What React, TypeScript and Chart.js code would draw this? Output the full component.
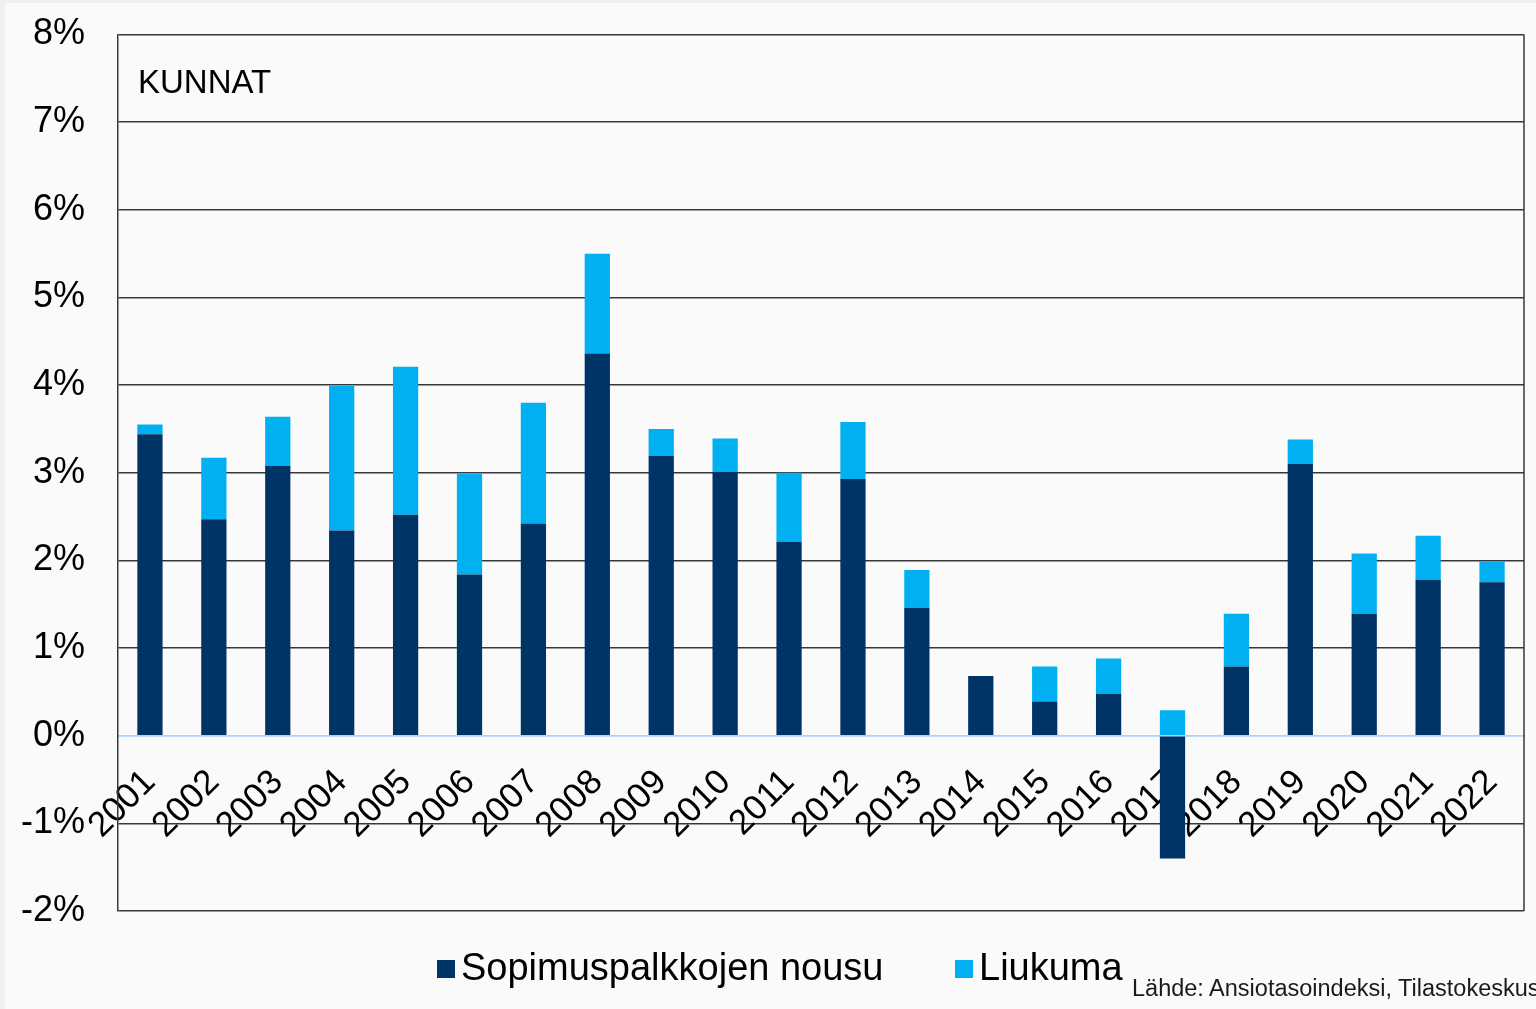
import React, { useEffect, useRef } from 'react';
import { Chart, registerables } from 'chart.js';

Chart.register(...registerables);

const years = ['2001', '2002', '2003', '2004', '2005', '2006', '2007', '2008', '2009', '2010', '2011',
  '2012', '2013', '2014', '2015', '2016', '2017', '2018', '2019', '2020', '2021', '2022'];

const sopimuspalkkojenNousu = [3.44, 2.47, 3.08, 2.34, 2.52, 1.84, 2.42, 4.36, 3.19, 3.01, 2.21,
  2.93, 1.46, 0.68, 0.39, 0.48, -1.40, 0.79, 3.10, 1.39, 1.78, 1.75];

const liukuma = [0.11, 0.70, 0.56, 1.65, 1.69, 1.15, 1.38, 1.14, 0.31, 0.38, 0.79,
  0.65, 0.43, 0, 0.40, 0.40, 0.29, 0.60, 0.28, 0.69, 0.50, 0.24];

const seriesLabels = ['Sopimuspalkkojen nousu', 'Liukuma'];
const yMin = -2;
const yMax = 8;
const panelTitle = 'KUNNAT';
const sourceText = 'Lähde: Ansiotasoindeksi, Tilastokeskus';

const FONT = "'Liberation Sans', Arial, Helvetica, sans-serif";
const NAVY = '#003366';
const LIGHT = '#00b0f0';
const seriesColors = [NAVY, LIGHT];
const GRID = '#383838';
const ZERO = '#a9d3ff';

// legend layout (inner-panel coordinates)
const legendLeft = [432, 950];

const framePlugin = {
  id: 'frameRight',
  beforeDatasetsDraw(chart: any) {
    const { ctx, chartArea: a } = chart;
    ctx.save();
    ctx.strokeStyle = GRID;
    ctx.lineWidth = 1.5;
    ctx.beginPath();
    ctx.moveTo(a.right, a.top);
    ctx.lineTo(a.right, a.bottom);
    ctx.stroke();
    ctx.restore();
  },
};

export default function App() {
  const canvasRef = useRef<HTMLCanvasElement | null>(null);

  useEffect(() => {
    const canvas = canvasRef.current;
    if (!canvas) return;
    const chart = new Chart(canvas, {
      type: 'bar',
      data: {
        labels: years,
        datasets: [
          {
            label: seriesLabels[0],
            data: sopimuspalkkojenNousu,
            backgroundColor: seriesColors[0],
            borderWidth: 0,
            barPercentage: 0.395,
            categoryPercentage: 1,
          },
          {
            label: seriesLabels[1],
            data: liukuma,
            backgroundColor: seriesColors[1],
            borderWidth: 0,
            barPercentage: 0.395,
            categoryPercentage: 1,
          },
        ],
      },
      options: {
        animation: false,
        responsive: false,
        maintainAspectRatio: false,
        devicePixelRatio: 1,
        layout: { padding: { top: 31.5, right: 12, bottom: 98, left: 0 } },
        plugins: {
          tooltip: { enabled: false },
          legend: { display: false },
        },
        scales: {
          x: {
            type: 'category',
            stacked: true,
            offset: true,
            position: { y: 0 } as any,
            z: 1,
            grid: { display: false, drawTicks: false },
            border: { display: true, color: ZERO, width: 1.5 },
            ticks: {
              autoSkip: false,
              minRotation: 45,
              maxRotation: 45,
              padding: 26,
              color: '#000',
              font: { family: FONT, size: 35 },
            },
            afterFit: (s: any) => {
              s.paddingLeft = 0;
              s.paddingRight = 0;
            },
          },
          y: {
            stacked: true,
            min: yMin,
            max: yMax,
            ticks: {
              stepSize: 1,
              padding: 33,
              color: '#000',
              font: { family: FONT, size: 36 },
              callback: (v: any) => `${v}%`,
            },
            grid: {
              drawTicks: false,
              lineWidth: 1.5,
              color: (c: any) => (c.tick && c.tick.value === 0 ? ZERO : GRID),
            },
            border: { display: true, color: GRID, width: 1.5 },
            afterFit: (s: any) => {
              s.width = 113;
              s.paddingTop = 0;
              s.paddingBottom = 0;
            },
          },
        },
      },
      plugins: [framePlugin],
    } as any);
    return () => chart.destroy();
  }, []);

  return (
    <div style={{ position: 'fixed', inset: 0, background: '#f0f0f0', overflow: 'hidden' }}>
      <div
        style={{
          position: 'absolute',
          left: 5,
          top: 3,
          width: 1531,
          height: 1006,
          background: '#fafafa',
          overflow: 'hidden',
        }}
      >
        <canvas ref={canvasRef} width={1531} height={1006} style={{ display: 'block' }} />
        <div
          style={{
            position: 'absolute',
            left: 133,
            top: 62,
            fontFamily: FONT,
            fontSize: 33,
            lineHeight: '33px',
            color: '#000',
            whiteSpace: 'nowrap',
          }}
        >
          {panelTitle}
        </div>
        {seriesLabels.map((label, i) => (
          <div
            key={label}
            style={{
              position: 'absolute',
              left: legendLeft[i],
              top: 945,
              height: 38,
              display: 'flex',
              alignItems: 'flex-start',
              fontFamily: FONT,
              fontSize: 38,
              lineHeight: '38px',
              color: '#000',
              whiteSpace: 'nowrap',
            }}
          >
            <span
              style={{
                display: 'inline-block',
                width: 18,
                height: 18,
                marginTop: 12,
                marginRight: 6,
                background: seriesColors[i],
              }}
            />
            <span>{label}</span>
          </div>
        ))}
        <div
          style={{
            position: 'absolute',
            left: 1127,
            top: 974,
            fontFamily: FONT,
            fontSize: 23.5,
            lineHeight: '23.5px',
            color: '#1a1a1a',
            whiteSpace: 'nowrap',
          }}
        >
          {sourceText}
        </div>
      </div>
    </div>
  );
}
